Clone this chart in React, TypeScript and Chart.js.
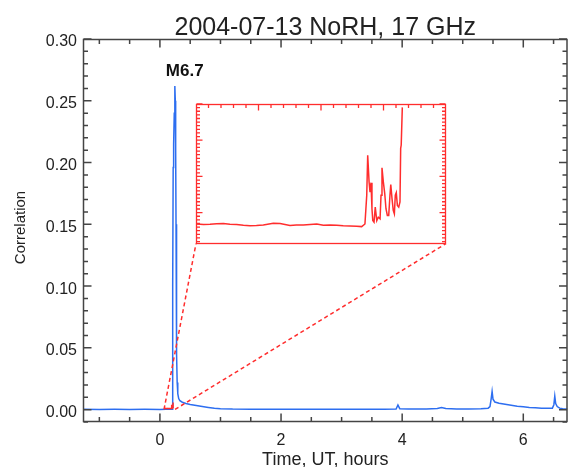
import React, { useEffect, useRef } from "react";
import { Chart, registerables } from "chart.js";

Chart.register(...registerables);

// ---------------- data ----------------
const titleText = "2004-07-13 NoRH, 17 GHz";
const xTitleText = "Time, UT, hours";
const yTitleText = "Correlation";
const flareLabel = "M6.7";

const xTickValues = [0, 2, 4, 6];
const yTickValues = [0, 0.05, 0.1, 0.15, 0.2, 0.25, 0.3];

// 17 GHz correlation (blue), time in hours UT
const timeBlue = [
  -1.27, -1.0, -0.75, -0.5, -0.25, 0.0, 0.1, 0.2, 0.208, 0.214, 0.219, 0.223, 0.23, 0.237,
  0.244, 0.249, 0.254, 0.26, 0.266, 0.272, 0.278, 0.285, 0.295, 0.31, 0.33, 0.37, 0.43, 0.5,
  0.6, 0.7, 0.8, 0.9, 1.0, 1.2, 1.5, 1.8, 2.1, 2.5, 2.9, 3.3, 3.7, 3.9, 3.93, 3.96, 4.1, 4.4,
  4.58, 4.65, 4.72, 4.9, 5.1, 5.3, 5.42, 5.45, 5.47, 5.485, 5.5, 5.53, 5.6, 5.7, 5.8, 5.9, 6.0,
  6.1, 6.2, 6.3, 6.4, 6.48, 6.505, 6.52, 6.535, 6.56, 6.6, 6.65, 6.73,
];
const corrBlue = [
  0.0003, 0.0002, 0.0003, 0.0002, 0.0003, 0.0002, 0.0003, 0.0004, 0.003, 0.1, 0.196, 0.2, 0.215,
  0.24, 0.258, 0.262, 0.25, 0.21, 0.15, 0.09, 0.045, 0.022, 0.013, 0.009, 0.0072, 0.006, 0.005,
  0.0042, 0.0033, 0.0025, 0.0018, 0.0012, 0.0008, 0.0005, 0.0004, 0.0003, 0.0004, 0.0003, 0.0004,
  0.0003, 0.0004, 0.0005, 0.0038, 0.0008, 0.0005, 0.0006, 0.0009, 0.0018, 0.0009, 0.0006, 0.0005,
  0.0007, 0.0012, 0.0025, 0.009, 0.0148, 0.0085, 0.0062, 0.0052, 0.0043, 0.0035, 0.0028, 0.0023,
  0.0018, 0.0015, 0.0012, 0.0011, 0.0012, 0.004, 0.011, 0.005, 0.0025, 0.0012, 0.0007, 0.0006,
];

// pre-flare interval shown in the zoomed inset (red)
const timeZoom = [
  0.0685, 0.0735, 0.0782, 0.083, 0.0879, 0.0927, 0.0976, 0.1025, 0.1073, 0.112, 0.117, 0.1243,
  0.1292, 0.1364, 0.141, 0.1461, 0.151, 0.1559, 0.1607, 0.1656, 0.1705, 0.1752, 0.18, 0.185,
  0.1886, 0.191, 0.1923, 0.193, 0.194, 0.1947, 0.1954, 0.1961, 0.1967, 0.1976, 0.1985, 0.1996,
  0.2007, 0.202, 0.2027, 0.2034, 0.2044, 0.2054, 0.2063, 0.2073, 0.2083, 0.2092, 0.2098, 0.2107,
  0.2116, 0.2124, 0.2131, 0.2138, 0.2146, 0.2156, 0.2165, 0.217, 0.2174, 0.2182,
];
const corrZoom = [
  0.00103, 0.00101, 0.00102, 0.00104, 0.00105, 0.00102, 0.00101, 0.00098, 0.00096, 0.00097,
  0.00099, 0.00106, 0.00105, 0.00097, 0.00099, 0.00099, 0.00101, 0.00103, 0.00098, 0.00099,
  0.00098, 0.00096, 0.00095, 0.00094, 0.00092, 0.00103, 0.00222, 0.00388, 0.00277, 0.00235,
  0.00274, 0.00166, 0.00117, 0.0011, 0.00173, 0.00117, 0.00131, 0.00124, 0.00222, 0.00336,
  0.00277, 0.00229, 0.00166, 0.00138, 0.00138, 0.00222, 0.00266, 0.00208, 0.00159, 0.00145,
  0.00222, 0.00233, 0.0018, 0.00173, 0.00194, 0.00416, 0.0043, 0.00586,
];

// ---------------- layout / style ----------------
const xRange = [-1.27, 6.73];
const yRange = [-0.01, 0.3];
const zoomWindowX = [0.068, 0.25];
const zoomWindowY = [0.0002, 0.006];
const insetBoxX = [0.596, 4.724];
const insetBoxY = [0.1344, 0.2473];
const flareLabelAt = [0.41, 0.2735];

const FONT = '"Liberation Sans", Arial, sans-serif';
const TEXT = "#222222";
const AXIS = "#444444";
const BLUE = "rgb(45,110,240)";
const RED = "rgb(255,45,45)";

const X_MINOR = 0.5;
const X_MAJOR = 2;
const Y_MINOR = 0.01;
const Y_MAJOR = 0.05;

const isMultiple = (v: number, step: number) => Math.abs(v / step - Math.round(v / step)) < 1e-6;

function tickValues(min: number, max: number, step: number): number[] {
  const out: number[] = [];
  const k0 = Math.ceil(min / step - 1e-9);
  const k1 = Math.floor(max / step + 1e-9);
  for (let k = k0; k <= k1; k++) out.push(k * step);
  return out;
}

const mainDecor = {
  id: "mainDecor",
  afterDraw(chart: any) {
    const ctx: CanvasRenderingContext2D = chart.ctx;
    const a = chart.chartArea;
    const xs = chart.scales.x;
    const ys = chart.scales.y;
    ctx.save();
    ctx.setLineDash([]);
    ctx.strokeStyle = AXIS;
    ctx.lineWidth = 1.5;
    const L = a.left + 0.5;
    const R = a.right - 0.5;
    const T = a.top + 0.5;
    const B = a.bottom - 0.5;
    ctx.strokeRect(L, T, R - L, B - T);
    ctx.beginPath();
    tickValues(xRange[0], xRange[1], X_MINOR).forEach((v) => {
      const len = isMultiple(v, X_MAJOR) ? 8 : 4.5;
      const px = xs.getPixelForValue(v);
      ctx.moveTo(px, B);
      ctx.lineTo(px, B - len);
      ctx.moveTo(px, T);
      ctx.lineTo(px, T + len);
    });
    tickValues(yRange[0], yRange[1], Y_MINOR).forEach((v) => {
      const len = isMultiple(v, Y_MAJOR) ? 8 : 4.5;
      const py = ys.getPixelForValue(v);
      ctx.moveTo(L, py);
      ctx.lineTo(L + len, py);
      ctx.moveTo(R, py);
      ctx.lineTo(R - len, py);
    });
    ctx.stroke();

    ctx.fillStyle = TEXT;
    ctx.textAlign = "center";
    ctx.textBaseline = "alphabetic";
    const cx = (a.left + a.right) / 2;
    ctx.font = `25px ${FONT}`;
    ctx.fillText(titleText, cx, 35);
    ctx.font = `18px ${FONT}`;
    ctx.fillText(xTitleText, cx, 465);
    ctx.save();
    ctx.translate(25, (a.top + a.bottom) / 2 - 3);
    ctx.rotate(-Math.PI / 2);
    ctx.font = `15px ${FONT}`;
    ctx.fillText(yTitleText, 0, 0);
    ctx.restore();
    ctx.font = `bold 17px ${FONT}`;
    ctx.textBaseline = "middle";
    ctx.fillStyle = "#111111";
    ctx.fillText(flareLabel, xs.getPixelForValue(flareLabelAt[0]), ys.getPixelForValue(flareLabelAt[1]));
    ctx.restore();
  },
};

const INSET_X_DIV = 20;
const INSET_X_MAJOR_EVERY = 5;
const INSET_Y_MINOR = 0.00015;
const INSET_Y_MAJOR = 0.0015;

const insetDecor = {
  id: "insetDecor",
  afterDraw(chart: any) {
    const ctx: CanvasRenderingContext2D = chart.ctx;
    const a = chart.chartArea;
    const xs = chart.scales.x;
    const ys = chart.scales.y;
    ctx.save();
    ctx.setLineDash([]);
    ctx.strokeStyle = RED;
    ctx.lineWidth = 1.3;
    const L = a.left + 0.5;
    const R = a.right - 0.5;
    const T = a.top + 0.5;
    const B = a.bottom - 0.5;
    ctx.strokeRect(L, T, R - L, B - T);
    ctx.beginPath();
    for (let i = 1; i < INSET_X_DIV; i++) {
      const v = zoomWindowX[0] + (i * (zoomWindowX[1] - zoomWindowX[0])) / INSET_X_DIV;
      const len = i % INSET_X_MAJOR_EVERY === 0 ? 6 : 3.5;
      const px = xs.getPixelForValue(v);
      ctx.moveTo(px, T);
      ctx.lineTo(px, T + len);
    }
    tickValues(zoomWindowY[0], zoomWindowY[1], INSET_Y_MINOR).forEach((v) => {
      const len = isMultiple(v, INSET_Y_MAJOR) ? 6 : 3.5;
      const py = ys.getPixelForValue(v);
      ctx.moveTo(L, py);
      ctx.lineTo(L + len, py);
      ctx.moveTo(R, py);
      ctx.lineTo(R - len, py);
    });
    ctx.stroke();
    ctx.restore();
  },
};

const pts = (xs: number[], ys: number[]) => xs.map((x, i) => ({ x, y: ys[i] }));

export default function App() {
  const mainRef = useRef<HTMLCanvasElement>(null);
  const insetRef = useRef<HTMLCanvasElement>(null);

  useEffect(() => {
    const main = new Chart(mainRef.current as HTMLCanvasElement, {
      type: "scatter",
      data: {
        datasets: [
          {
            data: pts(timeZoom, corrZoom),
            showLine: true,
            borderColor: RED,
            borderWidth: 1.5,
            pointRadius: 0,
            order: 1,
          },
          {
            data: [
              { x: zoomWindowX[0], y: zoomWindowY[0] },
              { x: insetBoxX[0], y: insetBoxY[0] },
            ],
            showLine: true,
            borderColor: RED,
            borderWidth: 1.5,
            borderDash: [4, 3],
            pointRadius: 0,
            order: 1,
          },
          {
            data: [
              { x: zoomWindowX[1], y: zoomWindowY[0] },
              { x: insetBoxX[1], y: insetBoxY[0] },
            ],
            showLine: true,
            borderColor: RED,
            borderWidth: 1.5,
            borderDash: [4, 3],
            pointRadius: 0,
            order: 1,
          },
          {
            data: pts(timeBlue, corrBlue),
            showLine: true,
            borderColor: BLUE,
            borderWidth: 1.5,
            pointRadius: 0,
            order: 2,
          },
        ],
      },
      options: {
        responsive: false,
        animation: false,
        layout: { padding: { top: 39, right: 1.5, left: 0, bottom: 0 } },
        plugins: { legend: { display: false }, tooltip: { enabled: false }, title: { display: false } },
        scales: {
          x: {
            type: "linear",
            position: "bottom",
            min: xRange[0],
            max: xRange[1],
            grid: { display: false, drawTicks: false },
            border: { display: false },
            afterBuildTicks: (s: any) => {
              s.ticks = xTickValues.map((v) => ({ value: v }));
            },
            afterFit: (s: any) => {
              s.height = 45;
            },
            ticks: {
              font: { family: FONT, size: 16 },
              color: TEXT,
              padding: 9,
              maxRotation: 0,
              autoSkip: false,
              callback: (v: any) => String(v),
            },
          },
          y: {
            type: "linear",
            position: "left",
            min: yRange[0],
            max: yRange[1],
            grid: { display: false, drawTicks: false },
            border: { display: false },
            afterBuildTicks: (s: any) => {
              s.ticks = yTickValues.map((v) => ({ value: v }));
            },
            afterFit: (s: any) => {
              s.width = 83;
            },
            ticks: {
              font: { family: FONT, size: 16 },
              color: TEXT,
              padding: 6,
              labelOffset: 3,
              autoSkip: false,
              callback: (v: any) => Number(v).toFixed(2),
            },
          },
        },
      },
      plugins: [mainDecor],
    } as any);

    const xs: any = main.scales.x;
    const ys: any = main.scales.y;
    const L = Math.round(xs.getPixelForValue(insetBoxX[0]));
    const R = Math.round(xs.getPixelForValue(insetBoxX[1]));
    const T = Math.round(ys.getPixelForValue(insetBoxY[1]));
    const B = Math.round(ys.getPixelForValue(insetBoxY[0]));
    const ic = insetRef.current as HTMLCanvasElement;
    ic.width = R - L + 2;
    ic.height = B - T + 2;
    ic.style.left = `${L - 1}px`;
    ic.style.top = `${T - 1}px`;

    const inset = new Chart(ic, {
      type: "scatter",
      data: {
        datasets: [
          {
            data: pts(timeZoom, corrZoom),
            showLine: true,
            borderColor: RED,
            borderWidth: 1.5,
            pointRadius: 0,
          },
        ],
      },
      options: {
        responsive: false,
        animation: false,
        layout: { padding: 1 },
        plugins: { legend: { display: false }, tooltip: { enabled: false } },
        scales: {
          x: { type: "linear", min: zoomWindowX[0], max: zoomWindowX[1], display: false },
          y: { type: "linear", min: zoomWindowY[0], max: zoomWindowY[1], display: false },
        },
      },
      plugins: [insetDecor],
    } as any);

    return () => {
      inset.destroy();
      main.destroy();
    };
  }, []);

  return (
    <div>
      <canvas ref={mainRef} width={569} height={467} style={{ position: "absolute", left: 0, top: 0 }} />
      <canvas ref={insetRef} style={{ position: "absolute", left: 0, top: 0 }} />
    </div>
  );
}
